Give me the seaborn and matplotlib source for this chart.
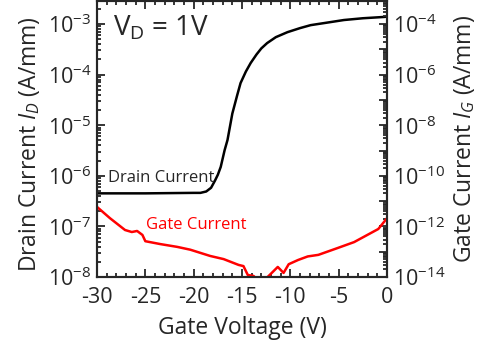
import numpy as np
import pandas as pd
import seaborn as sns
import matplotlib.pyplot as plt
from matplotlib.ticker import LogLocator, FixedLocator, MultipleLocator, NullFormatter

# drain current, left axis (A/mm)
vg_drain = [-30, -25, -20, -19.3, -18.7, -18.2, -17.8, -17.5, -17.2, -16.8, -16.5, -16.0, -15.5,
            -15.15, -14.6, -14.1, -13.5, -13.0, -12.4, -11.5, -10.3, -9.0, -7.9, -6.0, -4.45,
            -2.5, -0.3, 0]
id_drain = [4.5e-7, 4.5e-7, 4.6e-7, 4.6e-7, 4.9e-7, 5.8e-7, 8.0e-7, 1.05e-6, 1.5e-6, 3.2e-6, 5.1e-6,
            1.7e-5, 3.9e-5, 6.8e-5, 1.15e-4, 1.7e-4, 2.5e-4, 3.3e-4, 4.2e-4, 5.5e-4, 6.9e-4, 8.3e-4,
            9.5e-4, 1.08e-3, 1.2e-3, 1.3e-3, 1.38e-3, 1.4e-3]

# gate current, right axis (A/mm)
vg_gate = [-30.0, -28.65, -27.1, -26.4, -25.85, -25.3, -25.0, -23.45, -21.7, -20.35, -18.3,
           -16.9, -15.35, -14.85, -14.4, -13.8, -13.2, -12.9, -12.35, -11.3, -10.7, -10.17,
           -9.2, -8.2, -7.1, -5.1, -3.4, -0.9, 0]
ig_gate = [5.9e-12, 2.1e-12, 7.2e-13, 6.0e-13, 6.6e-13, 4.6e-13, 2.6e-13, 2.0e-13, 1.55e-13, 1.2e-13, 6.8e-14,
           5.1e-14, 3.0e-14, 2.7e-14, 1.2e-14, 1.1e-14, 6e-15, 6e-15, 1.0e-14, 2.5e-14, 1.45e-14, 3.2e-14,
           4.7e-14, 6.5e-14, 7.5e-14, 1.4e-13, 2.4e-13, 7.9e-13, 2.1e-12]

x_ticks = [-30, -25, -20, -15, -10, -5, 0]
left_ticks = [1e-8, 1e-7, 1e-6, 1e-5, 1e-4, 1e-3]
left_labels = ['$10^{-8}$', '$10^{-7}$', '$10^{-6}$', '$10^{-5}$', '$10^{-4}$', '$10^{-3}$']
right_ticks = [1e-14, 1e-13, 1e-12, 1e-11, 1e-10, 1e-9, 1e-8, 1e-7, 1e-6, 1e-5, 1e-4]
right_labels = ['$10^{-14}$', '', '$10^{-12}$', '', '$10^{-10}$', '', '$10^{-8}$', '',
                '$10^{-6}$', '', '$10^{-4}$']

sns.set_style('ticks')
plt.rcParams['font.family'] = ['Open Sans', 'DejaVu Sans']
plt.rcParams['mathtext.fontset'] = 'custom'
plt.rcParams['mathtext.rm'] = 'Open Sans'
plt.rcParams['mathtext.it'] = 'Open Sans:italic'
plt.rcParams['axes.linewidth'] = 1.5

fig = plt.figure(figsize=(4.95, 3.47), dpi=100)
ax = fig.add_axes([97 / 495, 70 / 347, 290 / 495, 276 / 347])
ax2 = ax.twinx()

df_d = pd.DataFrame({'Vg': vg_drain, 'Id': id_drain})
df_g = pd.DataFrame({'Vg': vg_gate, 'Ig': ig_gate})
sns.lineplot(data=df_d, x='Vg', y='Id', ax=ax, color='black', linewidth=1.8, sort=False)
sns.lineplot(data=df_g, x='Vg', y='Ig', ax=ax2, color='#ff0000', linewidth=1.8, sort=False)

ax.set_xlim(-30, 0)
ax.set_yscale('log')
ax2.set_yscale('log')
ax.set_ylim(1e-8, 10 ** -2.545)
ax2.set_ylim(1e-14, 10 ** -3.09)

ax.set_xticks(x_ticks)
ax.set_xticklabels([str(t) for t in x_ticks])
ax.xaxis.set_minor_locator(MultipleLocator(1))
ax.yaxis.set_major_locator(FixedLocator(left_ticks))
ax.set_yticklabels(left_labels)
ax.yaxis.set_minor_locator(LogLocator(base=10, subs=np.arange(2, 10), numticks=100))
ax.yaxis.set_minor_formatter(NullFormatter())
ax2.yaxis.set_major_locator(FixedLocator(right_ticks))
ax2.set_yticklabels(right_labels)
ax2.yaxis.set_minor_locator(LogLocator(base=10, subs=np.arange(2, 10), numticks=100))
ax2.yaxis.set_minor_formatter(NullFormatter())

ax.tick_params(axis='both', which='both', direction='in', top=True, labelsize=15.5, width=1.3)
ax.tick_params(axis='y', which='both', right=False)
ax.tick_params(which='major', length=6)
ax.tick_params(which='minor', length=3)
ax.tick_params(axis='x', pad=7)
ax.tick_params(axis='y', pad=4)
ax2.tick_params(axis='y', which='both', direction='in', labelsize=15.5, width=1.3, pad=4)
ax2.tick_params(which='major', length=6)
ax2.tick_params(which='minor', length=3)

ax.set_xlabel('Gate Voltage (V)', fontsize=16.5)
ax.set_ylabel('Drain Current $I_D$ (A/mm)', fontsize=16.5)
ax2.set_ylabel('Gate Current $I_G$ (A/mm)', fontsize=16.5)
ax.yaxis.set_label_coords(-0.19, 0.48)
ax2.yaxis.set_label_coords(1.224, 0.5)
ax.xaxis.set_label_coords(0.5, -0.14)

ax.text(0.055, 0.90, '$\\mathrm{V_D}$ = 1V', transform=ax.transAxes, fontsize=20, va='center')
ax.text(0.038, 0.359, 'Drain Current', transform=ax.transAxes, fontsize=12, va='center')
ax.text(0.169, 0.188, 'Gate Current', transform=ax.transAxes, fontsize=12, va='center', color='#ff0000')

fig.savefig('out.png', dpi=100)
